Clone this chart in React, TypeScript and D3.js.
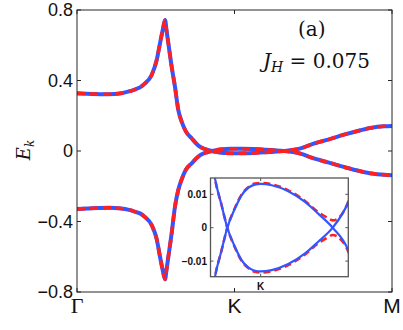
import React from "react";
import * as d3 from "d3";

// path coordinate along Gamma -> K -> M (K at 1)
const kPath = [
  0, 0.1, 0.2, 0.28, 0.33, 0.37, 0.4, 0.432, 0.474, 0.506, 0.527, 0.545, 0.559, 0.569,
  0.58, 0.601, 0.622, 0.643, 0.665, 0.692, 0.728, 0.76, 0.78, 0.801, 0.83, 0.855, 0.888,
  0.917, 0.946, 0.975, 1.0, 1.048, 1.12, 1.193, 1.25, 1.313, 1.381, 1.43, 1.49, 1.6, 1.7,
  1.8, 1.871, 1.95, 2,
];
// band starting at +0.33 at Gamma
const bandA = [
  0.327, 0.323, 0.322, 0.328, 0.338, 0.35, 0.361, 0.384, 0.431, 0.516, 0.611, 0.69, 0.743, 0.68,
  0.611, 0.478, 0.365, 0.233, 0.165, 0.11, 0.072, 0.04, 0.025, 0.0149, 0.0068, 0, -0.0057,
  -0.0097, -0.0119, -0.0129, -0.0131, -0.0127, -0.0109, -0.0077, -0.0042, 0, 0.0077, 0.018, 0.038, 0.066, 0.094,
  0.118, 0.132, 0.14, 0.142,
];
// band starting at -0.33 at Gamma
const bandB = [
  -0.329, -0.325, -0.322, -0.326, -0.334, -0.345, -0.354, -0.375, -0.42, -0.5, -0.6, -0.68, -0.728, -0.67,
  -0.6, -0.467, -0.316, -0.221, -0.16, -0.105, -0.07, -0.04, -0.025, -0.0149, -0.0068, 0, 0.0057,
  0.0097, 0.0119, 0.0129, 0.0131, 0.0127, 0.0109, 0.0077, 0.0042, 0, -0.0068, -0.018, -0.038, -0.066, -0.092,
  -0.115, -0.128, -0.135, -0.137,
];

// inset: red dashed curves (gap opens near the second crossing)
const insetK = [0.76, 0.78, 0.801, 0.83, 0.855, 0.888, 0.917, 0.946, 0.975, 1.0, 1.048, 1.12, 1.193, 1.25, 1.29, 1.313, 1.34, 1.381, 1.42];
const redA = [0.04, 0.025, 0.0149, 0.0068, 0, -0.0059, -0.0099, -0.0121, -0.0132, -0.0134, -0.013, -0.0112, -0.008, -0.0047, -0.003, -0.0022, -0.003, -0.0071, -0.016];
const redB = [-0.04, -0.025, -0.0149, -0.0068, 0, 0.0059, 0.0099, 0.0121, 0.0132, 0.0134, 0.013, 0.0112, 0.008, 0.0047, 0.003, 0.0022, 0.003, 0.0078, 0.017];

const yTicks = [0.8, 0.4, 0, -0.4, -0.8];
const xTicks = [
  { v: 0, label: "Γ" },
  { v: 1, label: "K" },
  { v: 2, label: "M" },
];
const insetYTicks = [0.01, 0, -0.01];

const BLUE = "#3355ff";
const RED = "#ff2020";

const fmt = (v: number) => (v < 0 ? "\u2212" + Math.abs(v) : String(v));

export default function App() {
  const width = 403;
  const height = 330;
  const m = { left: 77, right: 392, top: 10, bottom: 292 };

  const x = d3.scaleLinear().domain([0, 2]).range([m.left, m.right]);
  const y = d3.scaleLinear().domain([-0.8, 0.8]).range([m.bottom, m.top]);

  const ins = { left: 210.5, right: 348.3, top: 178, bottom: 276.7 };
  const xi = d3.scaleLinear().domain([0.782, 1.381]).range([ins.left, ins.right]);
  const yi = d3.scaleLinear().domain([-0.01467, 0.01488]).range([ins.bottom, ins.top]);

  const mainLine = d3
    .line<number>()
    .x((_, i) => x(kPath[i]))
    .y((d) => y(d))
    .curve(d3.curveMonotoneX);
  const insetBlue = d3
    .line<number>()
    .x((_, i) => xi(kPath[i]))
    .y((d) => yi(d))
    .curve(d3.curveMonotoneX);
  const insetRed = d3
    .line<number>()
    .x((_, i) => xi(insetK[i]))
    .y((d) => yi(d))
    .curve(d3.curveMonotoneX);

  const frame = "#262626";

  return (
    <svg width={width} height={height} style={{ position: "absolute", left: 0, top: 0, background: "#fff" }}>
      <defs>
        <clipPath id="mainClip">
          <rect x={m.left} y={m.top} width={m.right - m.left} height={m.bottom - m.top} />
        </clipPath>
        <clipPath id="insetClip">
          <rect x={ins.left} y={ins.top} width={ins.right - ins.left} height={ins.bottom - ins.top} />
        </clipPath>
      </defs>
      <rect width={width} height={height} fill="#fff" />

      {/* main curves */}
      <g clipPath="url(#mainClip)" fill="none">
        {[bandA, bandB].map((b, i) => (
          <path key={"b" + i} d={mainLine(b) ?? ""} stroke={BLUE} strokeWidth={4} />
        ))}
        {[bandA, bandB].map((b, i) => (
          <path key={"r" + i} d={mainLine(b) ?? ""} stroke={RED} strokeWidth={3.6} strokeDasharray="8,5" />
        ))}
      </g>

      {/* main frame and ticks */}
      <rect x={m.left} y={m.top} width={m.right - m.left} height={m.bottom - m.top} fill="none" stroke={frame} strokeWidth={1} />
      {yTicks.map((t) => (
        <g key={"yt" + t}>
          <line x1={m.left} x2={m.left + 4} y1={y(t)} y2={y(t)} stroke={frame} />
          <line x1={m.right} x2={m.right - 4} y1={y(t)} y2={y(t)} stroke={frame} />
          <text
            x={m.left - 4}
            y={y(t)}
            dy="0.36em"
            textAnchor="end"
            fontFamily="Liberation Sans, Arial, sans-serif"
            fontSize={18}
            fill="#111"
          >
            {fmt(t)}
          </text>
        </g>
      ))}
      {xTicks.map((t) => (
        <g key={"xt" + t.label}>
          <line x1={x(t.v)} x2={x(t.v)} y1={m.bottom} y2={m.bottom - 4} stroke={frame} />
          <line x1={x(t.v)} x2={x(t.v)} y1={m.top} y2={m.top + 4} stroke={frame} />
          <text
            x={x(t.v)}
            y={313}
            textAnchor="middle"
            fontFamily={t.label === "Γ" ? "Liberation Serif, serif" : "Liberation Sans, Arial, sans-serif"}
            fontSize={t.label === "Γ" ? 22 : 21}
            fill="#111"
          >
            {t.label}
          </text>
        </g>
      ))}

      {/* y label */}
      <text
        transform="translate(30,150) rotate(-90)"
        textAnchor="middle"
        fontFamily="DejaVu Serif, serif"
        fontStyle="italic"
        fontSize={18}
        fill="#111"
      >
        E<tspan fontSize={12} dy={4}>k</tspan>
      </text>

      {/* annotations */}
      <text x={311.7} y={36} textAnchor="middle" fontFamily="DejaVu Serif, serif" fontSize={20} fill="#111">
        (a)
      </text>
      <text x={263} y={68} fontFamily="DejaVu Serif, serif" fontSize={20} fill="#111">
        <tspan fontStyle="italic">J</tspan>
        <tspan fontStyle="italic" fontSize={14} dy={4}>H</tspan>
        <tspan dy={-4}> = 0.075</tspan>
      </text>

      {/* inset */}
      <rect x={ins.left} y={ins.top} width={ins.right - ins.left} height={ins.bottom - ins.top} fill="#fff" />
      <g clipPath="url(#insetClip)" fill="none">
        {[redA, redB].map((b, i) => (
          <path key={"ir" + i} d={insetRed(b) ?? ""} stroke={RED} strokeWidth={2.6} strokeDasharray="7,4" />
        ))}
        {[bandA, bandB].map((b, i) => (
          <path key={"ib" + i} d={insetBlue(b) ?? ""} stroke={BLUE} strokeWidth={2.2} />
        ))}
      </g>
      <rect
        x={ins.left}
        y={ins.top}
        width={ins.right - ins.left}
        height={ins.bottom - ins.top}
        fill="none"
        stroke="#555"
        strokeWidth={1.3}
      />
      {insetYTicks.map((t) => (
        <g key={"it" + t}>
          <line x1={ins.left} x2={ins.left + 3} y1={yi(t)} y2={yi(t)} stroke="#555" />
          <line x1={ins.right} x2={ins.right - 3} y1={yi(t)} y2={yi(t)} stroke="#555" />
          <text
            x={207}
            y={yi(t)}
            dy="0.36em"
            textAnchor="end"
            fontFamily="Liberation Sans, Arial, sans-serif"
            fontWeight="bold"
            fontSize={10}
            fill="#111"
          >
            {fmt(t)}
          </text>
        </g>
      ))}
      <line x1={xi(1)} x2={xi(1)} y1={ins.bottom} y2={ins.bottom - 3} stroke="#555" />
      <line x1={xi(1)} x2={xi(1)} y1={ins.top} y2={ins.top + 3} stroke="#555" />
      <text
        x={xi(1)}
        y={290}
        textAnchor="middle"
        fontFamily="Liberation Sans, Arial, sans-serif"
        fontWeight="bold"
        fontSize={10}
        fill="#111"
      >
        K
      </text>
    </svg>
  );
}
